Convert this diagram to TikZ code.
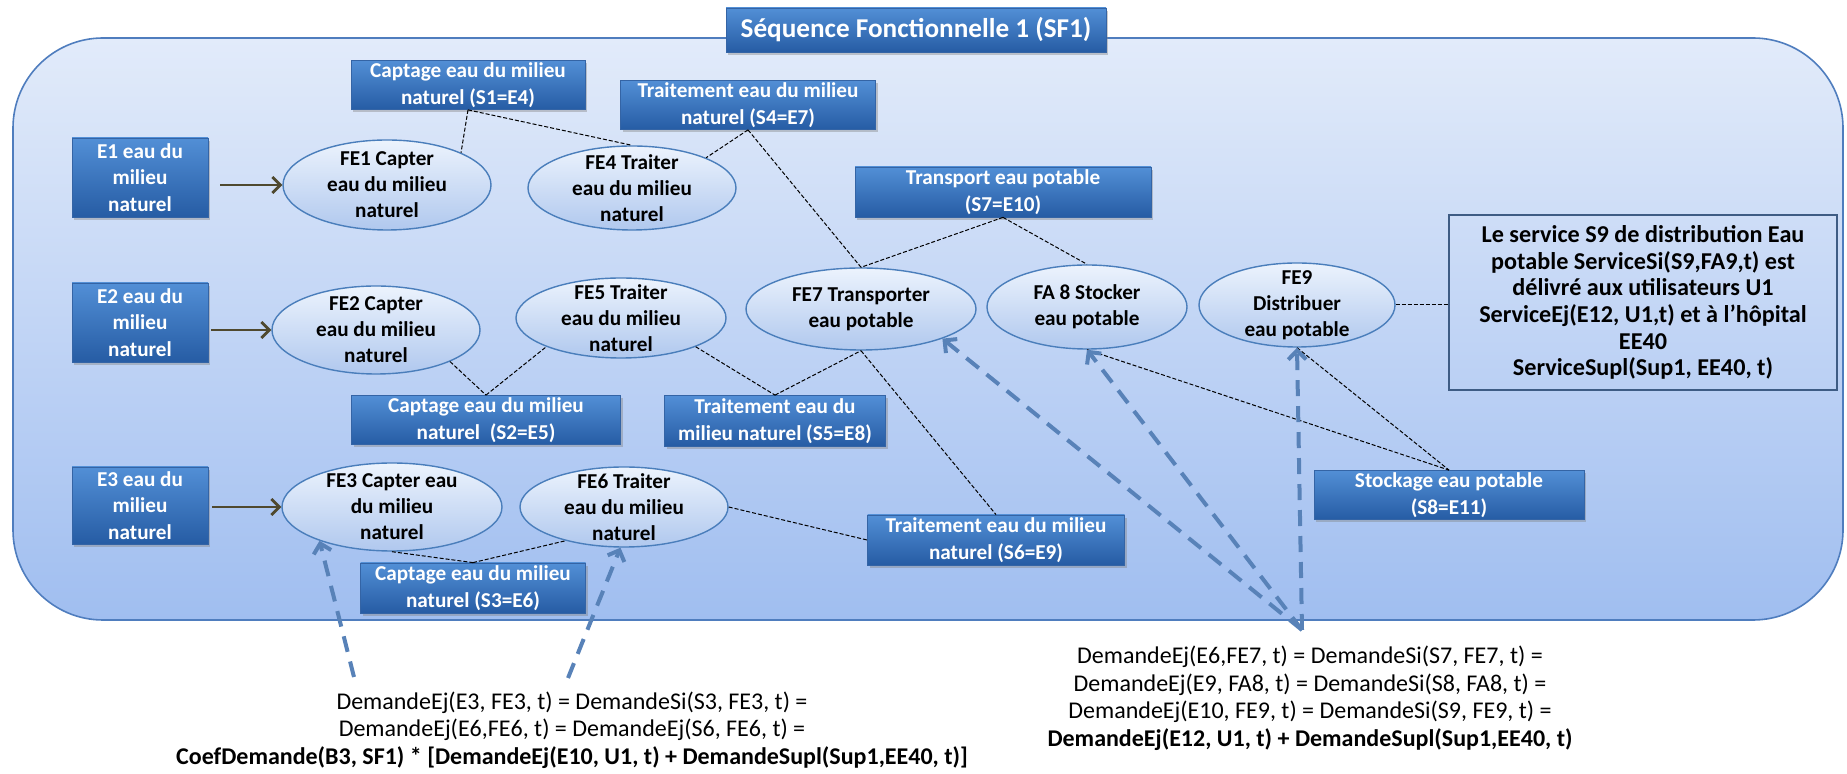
\documentclass[tikz,border=0pt]{standalone}
\usepackage{fontspec}
\setmainfont{Carlito}
\usetikzlibrary{arrows.meta, shapes.geometric, shadows}

\definecolor{boxtop}{RGB}{82,143,214}
\definecolor{boxbot}{RGB}{38,92,164}
\definecolor{boxline}{RGB}{52,100,165}
\definecolor{elltop}{RGB}{236,243,253}
\definecolor{ellbot}{RGB}{176,200,238}
\definecolor{ellline}{RGB}{74,126,187}
\definecolor{panetop}{RGB}{226,235,250}
\definecolor{panebot}{RGB}{160,190,240}
\definecolor{paneline}{RGB}{79,125,190}
\definecolor{olive}{RGB}{79,73,47}
\definecolor{dmdblue}{RGB}{88,130,184}
\definecolor{noteline}{RGB}{62,92,132}

\begin{document}
\begin{tikzpicture}[
  x=0.5pt, y=-0.5pt,
  font=\fontsize{10.6}{13.4}\selectfont\bfseries,
  pane/.style ={draw=paneline, line width=0.8pt, top color=panetop, bottom color=panebot,
                rounded corners=45pt, inner sep=0pt},
  box/.style  ={draw=boxline, line width=0.4pt, top color=boxtop, bottom color=boxbot,
                text=white, align=center, inner xsep=2pt, inner ysep=0.5pt,
                minimum height=24.5pt,
                drop shadow={shadow xshift=1.2pt, shadow yshift=-1.4pt, opacity=0.4}},
  ebox/.style ={box, minimum width=68pt, minimum height=39.5pt},
  fn/.style   ={ellipse, draw=ellline, line width=0.7pt, top color=elltop, bottom color=ellbot,
                align=center, inner sep=-4pt, font=\fontsize{10.6}{13}\selectfont\bfseries},
  note/.style ={draw=noteline, line width=1.1pt, align=center, minimum width=194pt,
                minimum height=87.5pt, font=\fontsize{12.1}{13.35}\selectfont\bfseries},
  dmd/.style  ={align=center, font=\fontsize{12}{13.75}\selectfont},
  arr/.style  ={-{Straight Barb[length=4pt, width=8pt]}, line width=1.4pt, olive},
  link/.style ={dash pattern=on 2pt off 1pt, line width=0.5pt, black},
  req/.style  ={-{Straight Barb[length=4.5pt, width=9pt]}, line width=2pt, dmdblue,
                dash pattern=on 8pt off 5pt},
]
\useasboundingbox (0,0) rectangle (1847,774);

% ================= frame + title =================
\node[pane, minimum width=915pt, minimum height=291pt] (sf) at (928,329) {};
\node[box, minimum width=190pt, minimum height=22pt,
      font=\fontsize{13.6}{16}\selectfont\bfseries] (title) at (916,30)
  {Séquence Fonctionnelle 1 (SF1)};

% ================= row 1 =================
\node[ebox] (E1) at (140,177.5) {E1 eau du\\milieu\\naturel};
\node[fn, minimum width=104pt, minimum height=45pt] (FE1) at (387,185)
  {FE1 Capter\\eau du milieu\\naturel};
\node[fn, minimum width=104pt, minimum height=42pt] (FE4) at (632,188)
  {FE4 Traiter\\eau du milieu\\naturel};
\node[box, minimum width=117pt] (S1) at (468,85) {Captage eau du milieu\\naturel (S1=E4)};
\node[box, minimum width=127.5pt] (S4) at (748,105) {Traitement eau du milieu\\naturel (S4=E7)};
\node[box, minimum width=148pt, minimum height=25pt] (S7) at (1003,192)
  {Transport eau potable\\(S7=E10)};

% ================= row 2 =================
\node[ebox] (E2) at (140,322.5) {E2 eau du\\milieu\\naturel};
\node[fn, minimum width=104pt, minimum height=44pt] (FE2) at (376,330)
  {FE2 Capter\\eau du milieu\\naturel};
\node[fn, minimum width=105pt, minimum height=40pt] (FE5) at (621,318)
  {FE5 Traiter\\eau du milieu\\naturel};
\node[fn, minimum width=115pt, minimum height=41pt] (FE7) at (861,309)
  {FE7 Transporter\\eau potable};
\node[fn, minimum width=100pt, minimum height=42pt] (FA8) at (1087,307)
  {FA 8 Stocker\\eau potable};
\node[fn, minimum width=98pt, minimum height=42pt] (FE9) at (1297,305)
  {FE9\\Distribuer\\eau potable};
\node[note] (note) at (1643,302.5)
  {Le service S9 de distribution Eau\\potable ServiceSi(S9,FA9,t) est\\délivré aux utilisateurs U1\\
   ServiceEj(E12, U1,t) et à l’hôpital\\EE40\\ServiceSupl(Sup1, EE40, t)};
\node[box, minimum width=134.5pt] (S2) at (486,420) {Captage eau du milieu\\naturel\ \ (S2=E5)};
\node[box, minimum width=110.5pt, minimum height=25.5pt] (S5) at (775,421)
  {Traitement eau du\\milieu naturel (S5=E8)};

% ================= row 3 =================
\node[ebox, minimum height=38.5pt] (E3) at (140,505.5) {E3 eau du\\milieu\\naturel};
\node[fn, minimum width=110pt, minimum height=44pt] (FE3) at (392,507)
  {FE3 Capter eau\\du milieu\\naturel};
\node[fn, minimum width=104pt, minimum height=40pt] (FE6) at (624,507)
  {FE6 Traiter\\eau du milieu\\naturel};
\node[box, minimum width=112.5pt, minimum height=25pt] (S3) at (473,588)
  {Captage eau du milieu\\naturel (S3=E6)};
\node[box, minimum width=128.5pt, minimum height=25pt] (S6) at (996,540)
  {Traitement eau du milieu\\naturel (S6=E9)};
\node[box, minimum width=135pt] (S8) at (1449,495) {Stockage eau potable\\(S8=E11)};

% inputs
\foreach \a/\b/\s in {E1/FE1/6pt, E2/FE2/1.5pt, E3/FE3/2pt}
  {\draw[arr, shorten <=\s] (\a.east |- \b.west) -- (\b.west);}

% services between functions
\foreach \a/\b in {S1.south/FE1.north east, S1.south/FE4.north, S4.south/FE4.north east,
                   S4.south/FE7.north, S7.south/FE7.north, S7.south/FA8.north,
                   FE2.south east/S2.north, S2.north/FE5.south west, FE5.south east/S5.north,
                   S5.north/FE7.south, FE7.south/S6.north, FE6.east/S6.west,
                   FE3.south/S3.north, S3.north/FE6.210, FA8.south/S8.north, FE9.south/S8.north}
  {\draw[link] (\a) -- (\b);}
\draw[link] (FE9.east) -- (FE9.east -| note.west);

% ================= demand equations =================
\node[dmd] (dmdL) at (572,730)
  {DemandeEj(E3, FE3, t) = DemandeSi(S3, FE3, t) =\\
   DemandeEj(E6,FE6, t) = DemandeEj(S6, FE6, t) =\\
   \textbf{CoefDemande(B3, SF1) * [DemandeEj(E10, U1, t) + DemandeSupl(Sup1,EE40, t)]}};
\node[dmd] (dmdR) at (1310,698)
  {DemandeEj(E6,FE7, t) = DemandeSi(S7, FE7, t) =\\
   DemandeEj(E9, FA8, t) = DemandeSi(S8, FA8, t) =\\
   DemandeEj(E10, FE9, t) = DemandeSi(S9, FE9, t) =\\
   \textbf{DemandeEj(E12, U1, t) + DemandeSupl(Sup1,EE40, t)}};

\coordinate (bl1) at (354,677);
\coordinate (bl2) at (568,678);
\coordinate (br) at (1302,630);
\draw[req] (bl1) -- (FE3.205);
\draw[req] (bl2) -- (FE6.265);
\foreach \t in {FE7.340, FA8.south, FE9.south}{\draw[req] (br) -- (\t);}

\end{tikzpicture}
\end{document}
